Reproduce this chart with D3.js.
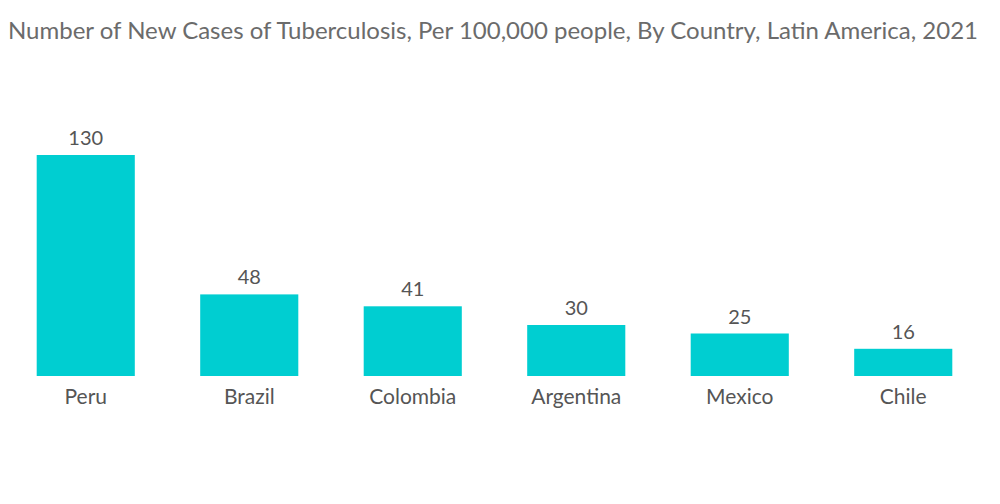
<!DOCTYPE html>
<html>
<head>
<meta charset="utf-8">
<script src="https://cdn.jsdelivr.net/npm/d3@7"></script>
<style>
  body { margin: 0; background: #fff; }
  text { font-family: Lato, "Open Sans", sans-serif; }
</style>
</head>
<body>
<script>
// chart data
const countries = ["Peru", "Brazil", "Colombia", "Argentina", "Mexico", "Chile"];
const cases = [130, 48, 41, 30, 25, 16];
const title = "Number of New Cases of Tuberculosis, Per 100,000 people, By Country, Latin America, 2021";

const width = 1000, height = 504;
const baseY = 376;

const svg = d3.select("body")
    .append("svg")
    .attr("width", width)
    .attr("height", height);

// title
svg.append("text")
    .attr("x", 8)
    .attr("y", 39)
    .attr("fill", "#6b6b6b")
    .style("font-size", "24px")
    .attr("textLength", 970)
    .attr("lengthAdjust", "spacingAndGlyphs")
    .text(title);

// scales
const xScale = d3.scaleBand()
    .domain(countries)
    .range([4, 985])
    .paddingInner(0.4)
    .paddingOuter(0.2);

const yScale = d3.scaleLinear()
    .domain([0, 130])
    .range([baseY, 155]);

// bars
svg.selectAll("rect.bar")
    .data(cases)
    .enter()
    .append("rect")
    .attr("class", "bar")
    .attr("x", (d, i) => xScale(countries[i]))
    .attr("y", d => yScale(d))
    .attr("width", xScale.bandwidth())
    .attr("height", d => baseY - yScale(d))
    .attr("fill", "#00ced1");

// value labels
svg.selectAll("text.value")
    .data(cases)
    .enter()
    .append("text")
    .attr("class", "value")
    .attr("x", (d, i) => xScale(countries[i]) + xScale.bandwidth() / 2)
    .attr("y", d => yScale(d) - 10)
    .attr("text-anchor", "middle")
    .attr("fill", "#555")
    .style("font-size", "20px")
    .text(d => d);

// x axis (labels only)
const xAxis = d3.axisBottom(xScale).tickSize(0).tickPadding(13);
const gx = svg.append("g")
    .attr("transform", "translate(0," + baseY + ")")
    .call(xAxis);
gx.select(".domain").remove();
gx.selectAll("text")
    .attr("fill", "#555")
    .style("font-size", "21px")
    .style("font-family", "Lato, 'Open Sans', sans-serif");
</script>
</body>
</html>
